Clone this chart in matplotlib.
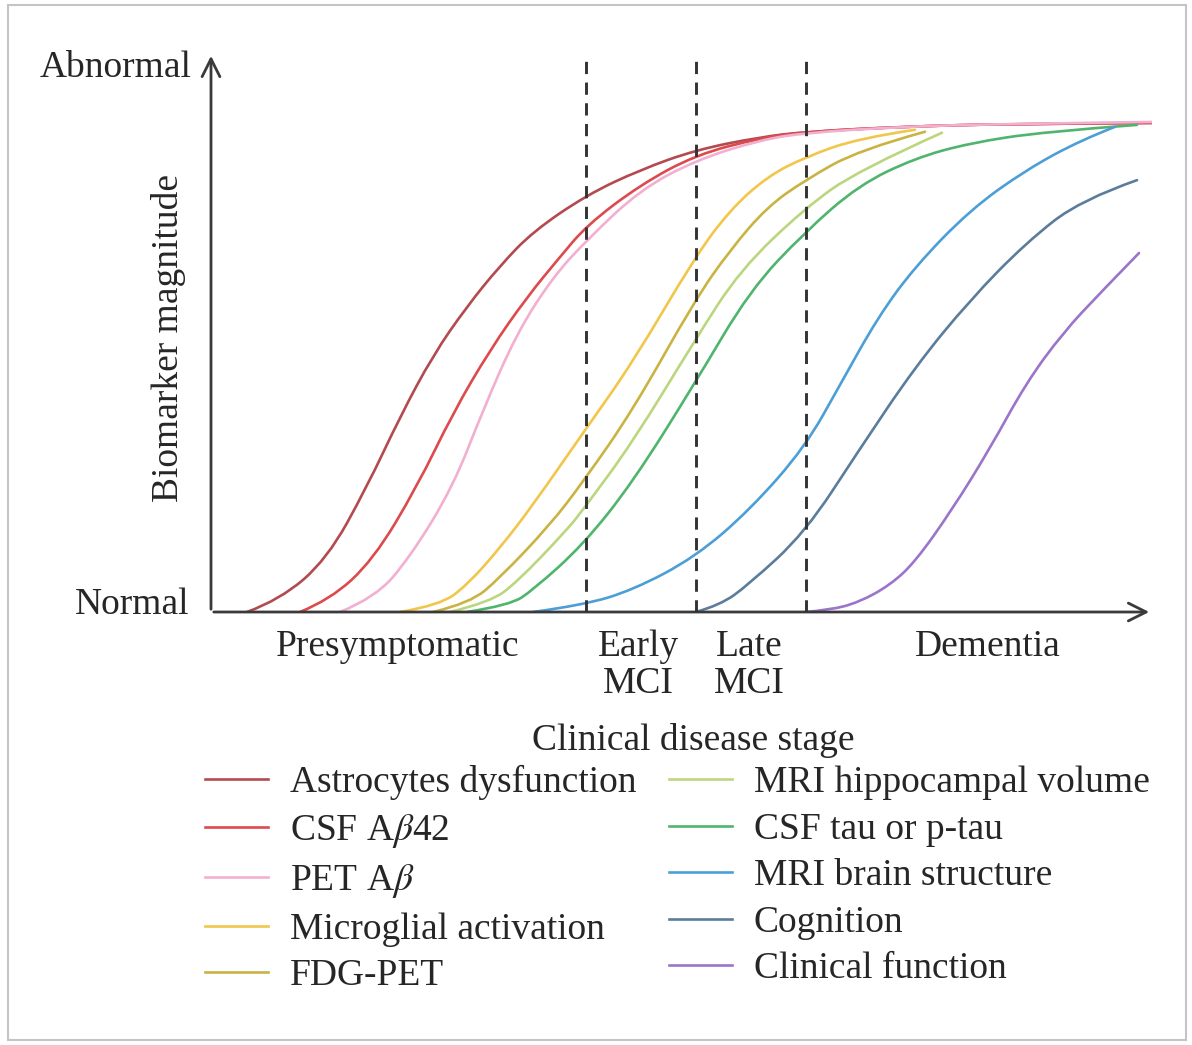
import matplotlib
matplotlib.use('Agg')
import matplotlib.pyplot as plt
from matplotlib.patches import Rectangle, PathPatch
from matplotlib.path import Path
from matplotlib.lines import Line2D

plt.rcParams['font.family'] = ['Liberation Serif', 'DejaVu Serif']
plt.rcParams['mathtext.fontset'] = 'stix'

# biomarker curves: x = disease progression (0..94), y = magnitude (0 normal .. 100 abnormal)
astro_x = [3.6, 6.9, 11.6, 15.6, 18.9, 22.2, 25.6, 28.9, 32.2, 37.6, 42.9, 48.5, 54.9, 59.5, 68.9, 78.9, 94.2]
astro_y = [0, 2.5, 10.8, 25.6, 39.9, 52.5, 62.5, 70.8, 77.8, 85.3, 90.4, 94.5, 97.1, 98.2, 99.2, 99.8, 100]

csfab_x = [8.9, 11.9, 16.2, 20.6, 24.2, 27.9, 31.6, 34.9, 37.6, 42.9, 48.5, 54.9, 59.5, 68.9, 78.9, 94.2]
csfab_y = [0, 2.5, 10.6, 25.6, 40.7, 53.6, 64.4, 72.6, 79.1, 87.3, 93.5, 96.9, 98.2, 99.2, 99.8, 100]

petab_x = [12.9, 16.4, 19.9, 24.2, 27.2, 30.6, 34.2, 37.6, 42.9, 48.5, 54.9, 59.5, 68.9, 78.9, 94.2]
petab_y = [0, 2.9, 11.2, 25.6, 41.3, 57.1, 68.5, 76.1, 86.3, 92.4, 96.5, 98.0, 99.2, 99.8, 100.2]

micro_x = [18.9, 22.9, 25.6, 28.9, 32.2, 37.2, 42.2, 48.4, 51.9, 55.6, 59.4, 64.8, 70.4]
micro_y = [0, 1.4, 5.5, 13.1, 21.9, 36.6, 51.1, 72.6, 82.2, 89.0, 93.0, 96.9, 98.6]

fdg_x = [22.2, 25.9, 28.9, 33.9, 37.2, 42.2, 48.4, 51.9, 55.6, 59.4, 64.8, 71.4]
fdg_y = [0, 1.8, 7.0, 17.8, 26.6, 41.3, 63.8, 74.0, 82.8, 88.3, 94.5, 98.2]

hippo_x = [23.9, 27.9, 30.6, 35.6, 37.2, 42.2, 48.4, 52.9, 59.4, 64.8, 73.1]
hippo_y = [0, 2.0, 6.1, 16.8, 20.9, 34.8, 55.6, 69.9, 82.6, 90.4, 98.0]

tau_x = [25.6, 29.9, 32.2, 37.2, 42.2, 48.4, 53.9, 59.4, 64.8, 70.4, 75.9, 83.3, 92.6]
tau_y = [0, 1.4, 4.5, 13.7, 26.6, 46.8, 65.8, 77.7, 87.3, 92.8, 95.9, 98.2, 99.6]

mri_x = [32.2, 37.2, 42.2, 48.4, 53.9, 59.4, 63.0, 66.7, 70.4, 75.9, 81.5, 87.0, 90.4]
mri_y = [0, 1.4, 4.5, 11.2, 20.9, 33.7, 46.8, 60.3, 70.6, 82.2, 90.4, 96.5, 99.2]

cog_x = [48.5, 50.9, 53.7, 59.4, 64.8, 70.4, 75.9, 81.5, 87.0, 92.6]
cog_y = [0, 1.4, 5.5, 16.2, 33.1, 50.1, 63.8, 75.5, 84.3, 88.3]

clin_x = [59.4, 61.9, 64.8, 67.9, 70.4, 74.1, 77.8, 81.5, 85.2, 88.9, 92.8]
clin_y = [0, 0.4, 2.0, 5.5, 10.2, 20.9, 33.1, 46.8, 57.1, 65.2, 73.4]

series = [
    ('Astrocytes dysfunction', astro_x, astro_y, '#b34a50'),
    (r'CSF A$\beta$42', csfab_x, csfab_y, '#dd4a4e'),
    (r'PET A$\beta$', petab_x, petab_y, '#f2afd0'),
    ('Microglial activation', micro_x, micro_y, '#f2c64a'),
    ('FDG-PET', fdg_x, fdg_y, '#c9b443'),
    ('MRI hippocampal volume', hippo_x, hippo_y, '#bcd67f'),
    ('CSF tau or p-tau', tau_x, tau_y, '#4fb46e'),
    ('MRI brain structure', mri_x, mri_y, '#4c9fd6'),
    ('Cognition', cog_x, cog_y, '#5c7c9c'),
    ('Clinical function', clin_x, clin_y, '#9a75c9'),
]

stage_bounds = [37.5, 48.5, 59.5]
stage_names = ['Presymptomatic', 'Early\nMCI', 'Late\nMCI', 'Dementia']
stage_x = [18.7, 42.7, 53.8, 77.7]

W, H = 1192, 1045
fx = lambda px: px / W
fy = lambda py: 1 - py / H


def smooth_path(xs, ys):
    # quadratic bezier through segment midpoints, the read points act as control points
    verts = [(xs[0], ys[0])]
    codes = [Path.MOVETO]
    for i in range(1, len(xs) - 1):
        mx = (xs[i] + xs[i + 1]) / 2
        my = (ys[i] + ys[i + 1]) / 2
        if i == len(xs) - 2:
            mx, my = xs[i + 1], ys[i + 1]
        verts += [(xs[i], ys[i]), (mx, my)]
        codes += [Path.CURVE3, Path.CURVE3]
    return Path(verts, codes)


fig = plt.figure(figsize=(W / 100, H / 100), dpi=100)
ax = fig.add_axes([fx(211), fy(612), (1152 - 211) / W, (612 - 53) / H])
ax.set_xlim(0, 94.1)
ax.set_ylim(0, 114.3)
ax.axis('off')

handles = []
for name, xs, ys, col in series:
    ax.add_patch(PathPatch(smooth_path(xs, ys), facecolor='none', edgecolor=col,
                           lw=1.9, capstyle='round', joinstyle='round'))
    handles.append(Line2D([], [], color=col, lw=1.9, label=name))

for b in stage_bounds:
    ax.plot([b, b], [0, 114.3], color='#333333', lw=2.1, dashes=(4.2, 2.9), zorder=5)

arr = dict(arrowstyle='->', lw=2.0, color='#3a3a3a', mutation_scale=32)
ax.annotate('', xy=(94.1, 0), xytext=(0, 0), arrowprops=arr, annotation_clip=False)
ax.annotate('', xy=(0, 114.3), xytext=(0, 0), arrowprops=arr, annotation_clip=False)

fs = 27
tc = '#262626'
fig.text(fx(191), fy(68), 'Abnormal', ha='right', va='center', fontsize=fs, color=tc)
fig.text(fx(189), fy(605), 'Normal', ha='right', va='center', fontsize=fs, color=tc)
fig.text(fx(168), fy(338), 'Biomarker magnitude', ha='center', va='center',
         rotation=90, fontsize=fs, color=tc)

for name, sx in zip(stage_names, stage_x):
    ax.text(sx, (612 - 629) / 4.89, name, ha='center', va='top', fontsize=fs,
            color=tc, linespacing=1.1, clip_on=False)

fig.text(fx(693), fy(741), 'Clinical disease stage', ha='center', va='center',
         fontsize=fs, color=tc)

fig.legend(handles=handles, loc='upper left', bbox_to_anchor=(fx(205), fy(765)),
           ncol=2, frameon=False, fontsize=fs, handlelength=1.68, handletextpad=0.59,
           columnspacing=0.85, labelspacing=0.32, borderpad=0, borderaxespad=0,
           labelcolor=tc)

fig.patches.append(Rectangle((fx(8), fy(1040)), fx(1186) - fx(8), fy(5) - fy(1040),
                             transform=fig.transFigure, fill=False,
                             edgecolor='#c4c4c4', lw=1.5))

fig.savefig('out.png', dpi=100)
